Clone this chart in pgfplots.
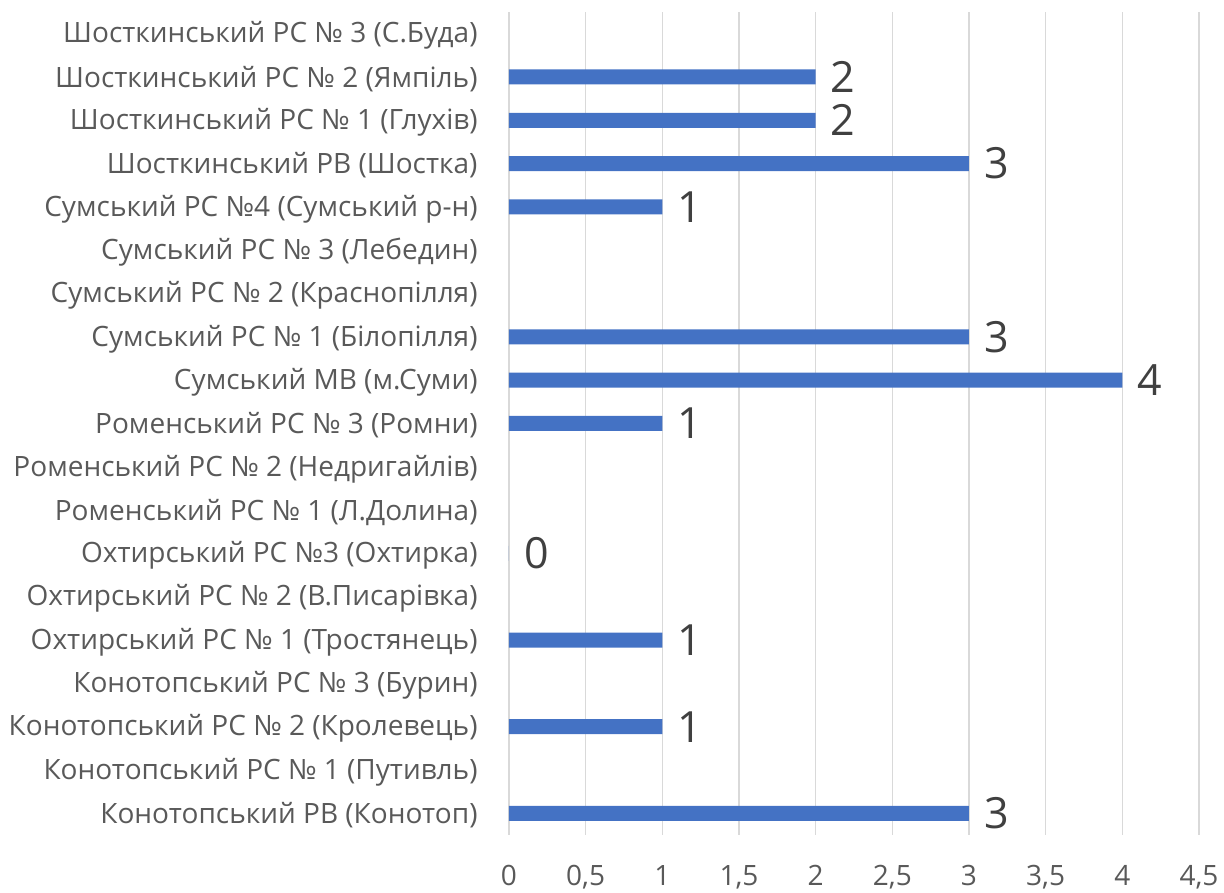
\documentclass[border=0pt]{standalone}
\usepackage{pgfplots}
\pgfplotsset{compat=1.18}
\usepackage{fontspec}
\setmainfont{Open Sans}
\definecolor{barblue}{HTML}{4472C4}
\definecolor{gridgray}{HTML}{D9D9D9}
\definecolor{labgray}{HTML}{595959}
\definecolor{numgray}{HTML}{404040}
\begin{document}
\begin{tikzpicture}
\begin{axis}[
  at={(0,0)}, anchor=south west,
  scale only axis, width=690pt, height=823pt,
  xbar, bar width=15pt,
  xmin=0, xmax=4.5, ymin=-0.5, ymax=18.5,
  /pgf/number format/assume math mode=true,
  axis x line*=bottom, axis y line*=left,
  x axis line style={draw=none},
  y axis line style={draw=gridgray, line width=1.2pt},
  xtick={0,0.5,1,1.5,2,2.5,3,3.5,4,4.5},
  xticklabels={0,{0,5},1,{1,5},2,{2,5},3,{3,5},4,{4,5}},
  xtick style={draw=none},
  xmajorgrids, grid style={draw=gridgray, line width=1.2pt},
  xticklabel style={font=\fontsize{28}{33}\selectfont, text=labgray, yshift=-27pt},
  ytick={0,...,18},
  yticklabels={
    Конотопський РВ (Конотоп),
    Конотопський РС № 1 (Путивль),
    Конотопський РС № 2 (Кролевець),
    Конотопський РС № 3 (Бурин),
    Охтирський РС № 1 (Тростянець),
    Охтирський РС № 2 (В.Писарівка),
    Охтирський РС №3 (Охтирка),
    Роменський РС № 1 (Л.Долина),
    Роменський РС № 2 (Недригайлів),
    Роменський РС № 3 (Ромни),
    Сумський МВ (м.Суми),
    Сумський РС № 1 (Білопілля),
    Сумський РС № 2 (Краснопілля),
    Сумський РС № 3 (Лебедин),
    Сумський РС №4 (Сумський р-н),
    Шосткинський РВ (Шостка),
    Шосткинський РС № 1 (Глухів),
    Шосткинський РС № 2 (Ямпіль),
    Шосткинський РС № 3 (С.Буда)},
  ytick style={draw=none},
  yticklabel style={font=\fontsize{28}{33}\selectfont, text=labgray, anchor=east, inner sep=0pt, xshift=-27pt, yshift=-2pt},
  extra y ticks={-0.5,0.5,1.5,2.5,3.5,4.5,5.5,6.5,7.5,8.5,9.5,10.5,11.5,12.5,13.5,14.5,15.5,16.5,17.5,18.5},
  extra y tick labels={},
  extra y tick style={tick style={draw=gridgray, line width=1.2pt}, tick align=outside, major tick length=7pt},
  nodes near coords,
  nodes near coords style={anchor=west, inner sep=0pt, xshift=15pt, font=\fontsize{43}{50}\selectfont, text=numgray},
]
\addplot[fill=barblue, draw=none] coordinates {
  (3,0) (1,2) (1,4) (0,6) (1,9) (4,10) (3,11) (1,14) (3,15) (2,16) (2,17)
};
\end{axis}
\useasboundingbox (-509pt,-55.4pt) rectangle (715pt,835pt);
\end{tikzpicture}
\end{document}
